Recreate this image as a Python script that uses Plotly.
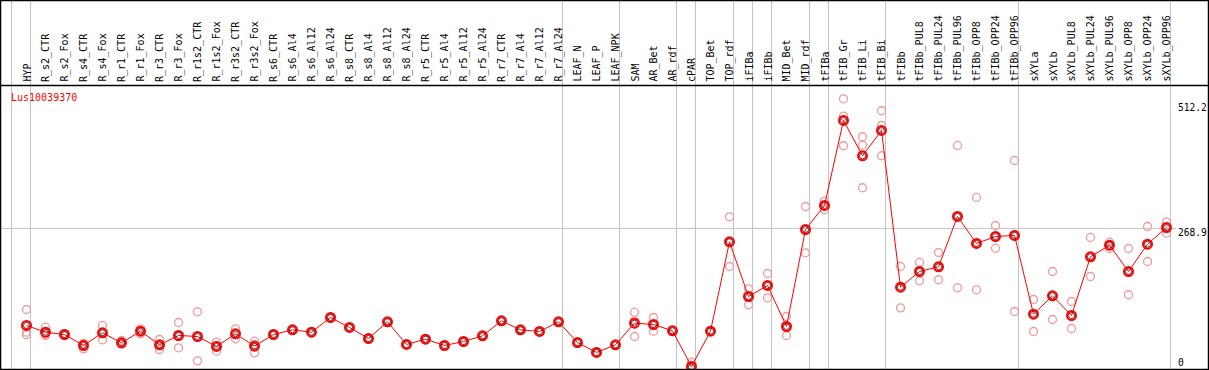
import plotly.graph_objects as go

categories = ["HYP", "R_s2_CTR", "R_s2_Fox", "R_s4_CTR", "R_s4_Fox", "R_r1_CTR", "R_r1_Fox",
              "R_r3_CTR", "R_r3_Fox", "R_r1s2_CTR", "R_r1s2_Fox", "R_r3s2_CTR", "R_r3s2_Fox",
              "R_s6_CTR", "R_s6_Al4", "R_s6_Al12", "R_s6_Al24", "R_s8_CTR", "R_s8_Al4",
              "R_s8_Al12", "R_s8_Al24", "R_r5_CTR", "R_r5_Al4", "R_r5_Al12", "R_r5_Al24",
              "R_r7_CTR", "R_r7_Al4", "R_r7_Al12", "R_r7_Al24", "LEAF_N", "LEAF_P", "LEAF_NPK",
              "SAM", "AR_Bet", "AR_rdf", "cPAR", "TOP_Bet", "TOP_rdf", "iFIBa", "iFIBb",
              "MID_Bet", "MID_rdf", "tFIBa", "tFIB_Gr", "tFIB_Li", "tFIB_Bi", "tFIBb",
              "tFIBb_PUL8", "tFIBb_PUL24", "tFIBb_PUL96", "tFIBb_OPP8", "tFIBb_OPP24",
              "tFIBb_OPP96", "sXYLa", "sXYLb", "sXYLb_PUL8", "sXYLb_PUL24", "sXYLb_PUL96",
              "sXYLb_OPP8", "sXYLb_OPP24", "sXYLb_OPP96"]

mean_values = [79.9, 66.8, 62.3, 40.9, 65.6, 46.1, 68.8, 42.2, 60.4, 58.4, 39.0, 63.6, 39.6,
               62.3, 71.4, 66.8, 95.4, 76.0, 54.5, 87.0, 42.9, 53.2, 40.9, 48.7, 59.7,
               88.9, 71.4, 68.2, 87.0, 46.7, 27.3, 42.2, 84.4, 81.8, 69.5, 0.0, 68.8,
               242.9, 136.3, 157.8, 77.9, 266.8, 313.6, 479.2, 410.4, 459.7, 154.5,
               185.0, 194.2, 292.2, 239.6, 253.2, 255.2, 101.9, 137.7, 99.3, 213.7, 236.3,
               185.0, 238.2, 270.7]

rep1 = [111.0, 76.6, 63.6, 42.9, 79.9, 50.6, 73.4, 52.6, 85.7, 106.5, 47.4, 73.4, 49.3,
        62.3, 71.4, 66.8, 95.4, 76.0, 54.5, 87.0, 42.9, 53.2, 40.9, 48.7, 59.7,
        88.9, 71.4, 68.2, 87.0, 46.7, 27.3, 42.2, 105.8, 95.4, 69.5, 8.4, 68.8,
        291.5, 151.3, 181.1, 97.4, 311.6, 322.0, 521.4, 447.4, 498.1, 194.8,
        202.6, 222.0, 430.5, 329.2, 274.6, 401.2, 130.5, 185.0, 126.6, 251.3, 242.1,
        229.8, 272.7, 281.1]
rep2 = [66.8, 60.4, 60.4, 34.4, 52.0, 44.2, 63.6, 33.1, 36.4, 11.0, 29.9, 53.9, 26.6,
        62.3, 71.4, 66.8, 95.4, 76.0, 54.5, 87.0, 42.9, 53.2, 40.9, 48.7, 59.7,
        88.9, 71.4, 68.2, 87.0, 46.7, 27.3, 42.2, 58.4, 68.8, 69.5, 0.0, 68.8,
        194.8, 120.2, 133.8, 60.4, 221.4, 305.2, 487.6, 431.1, 469.4, 114.2,
        166.9, 168.9, 153.3, 149.4, 230.4, 107.1, 68.2, 91.5, 74.0, 175.3, 229.8,
        139.7, 204.5, 259.6]
rep3 = [62.0, 63.0, 62.0, 45.0, 65.0, 44.0, 69.0, 41.0, 59.0, 58.0, 40.0, 63.0, 43.0,
        62.3, 71.4, 66.8, 95.4, 76.0, 54.5, 87.0, 42.9, 53.2, 40.9, 48.7, 59.7,
        88.9, 71.4, 68.2, 87.0, 46.7, 27.3, 42.2, 89.0, 81.0, 69.5, 0.0, 68.8,
        242.0, 137.0, 158.0, 76.0, 267.0, 313.0, 429.9, 348.1, 410.4, 155.0,
        185.0, 194.0, 292.0, 240.0, 253.0, 255.0, 102.0, 138.0, 99.0, 214.0, 236.0,
        185.0, 238.0, 271.0]

group_ends = [-1, 0, 28, 31, 34, 35, 37, 38, 39, 41, 42, 45, 52, 60]
axis_ticks = [0, 268.9, 512.2]
axis_tick_labels = ["0", "268.9", "512.2"]
gene_name = "Lus10039370"

# pixel geometry helpers
W, H = 1209, 370
X_START, X_STEP = 26.5, 19.0
Y_ZERO, Y_SCALE = 366.5, 263.0 / 512.2

def px_to_x(p):
    return (p - X_START) / X_STEP

def px_to_y(q):
    return (Y_ZERO - q) / Y_SCALE

idx = list(range(len(categories)))
FONT = "DejaVu Sans Mono"

fig = go.Figure()
for reps in (rep1, rep2, rep3):
    fig.add_trace(go.Scatter(x=idx, y=reps, mode="markers",
                             marker=dict(symbol="circle-open", size=8, color="#ee9a9a",
                                         line=dict(width=1.3, color="#ee9a9a")),
                             hoverinfo="skip", showlegend=False))
fig.add_trace(go.Scatter(x=idx, y=mean_values, mode="lines",
                         line=dict(color="red", width=1), showlegend=False, hoverinfo="skip"))
fig.add_trace(go.Scatter(x=idx, y=mean_values, mode="markers",
                         marker=dict(symbol="circle-open", size=9, color="red",
                                     line=dict(width=2, color="red")),
                         showlegend=False, hoverinfo="skip"))
fig.add_trace(go.Scatter(x=idx, y=mean_values, mode="markers",
                         marker=dict(symbol="circle-open", size=6, color="#400000",
                                     line=dict(width=0.8, color="#400000")),
                         showlegend=False, hoverinfo="skip"))

shapes = []
for g in group_ends:
    xv = g + 4.0 / X_STEP
    shapes.append(dict(type="line", xref="x", yref="y", x0=xv, x1=xv,
                       y0=px_to_y(0), y1=px_to_y(369), line=dict(color="#c4c4c4", width=1),
                       layer="below"))
shapes.append(dict(type="line", xref="x", yref="y", x0=px_to_x(0), x1=px_to_x(1176),
                   y0=axis_ticks[1], y1=axis_ticks[1], line=dict(color="#c4c4c4", width=1),
                   layer="below"))
# frame and header separator
shapes.append(dict(type="rect", xref="paper", yref="paper", x0=0.5 / W, x1=1208.5 / W,
                   y0=0.5 / H, y1=1 - 0.5 / H, line=dict(color="black", width=1.5)))
shapes.append(dict(type="line", xref="paper", yref="paper", x0=0, x1=1,
                   y0=1 - 85.5 / H, y1=1 - 85.5 / H, line=dict(color="black", width=1.5)))

annotations = []
for i, c in enumerate(categories):
    annotations.append(dict(x=i, y=px_to_y(84), xref="x", yref="y", text=c, showarrow=False,
                            textangle=-90, xanchor="center", yanchor="bottom",
                            font=dict(family=FONT, size=10, color="black")))
for v, t in zip(axis_ticks, axis_tick_labels):
    shift = -4 if v == 0 else 4
    annotations.append(dict(x=px_to_x(1176), y=v, xref="x", yref="y", text=t, showarrow=False,
                            xanchor="left", yanchor="middle", yshift=-shift,
                            font=dict(family=FONT, size=9.6, color="black")))
annotations.append(dict(x=px_to_x(9), y=px_to_y(97), xref="x", yref="y", text=gene_name,
                        showarrow=False, xanchor="left", yanchor="middle",
                        font=dict(family=FONT, size=10, color="red")))

fig.update_layout(width=W, height=H, autosize=False,
                  margin=dict(l=0, r=0, t=0, b=0, pad=0),
                  plot_bgcolor="white", paper_bgcolor="white",
                  xaxis=dict(range=[px_to_x(0), px_to_x(W)], visible=False, fixedrange=True),
                  yaxis=dict(range=[px_to_y(H), px_to_y(0)], visible=False, fixedrange=True),
                  shapes=shapes, annotations=annotations, showlegend=False)

fig.write_html("out.html", config={"displayModeBar": False},
               post_script="document.body.style.margin='0';document.body.style.overflow='hidden';")
